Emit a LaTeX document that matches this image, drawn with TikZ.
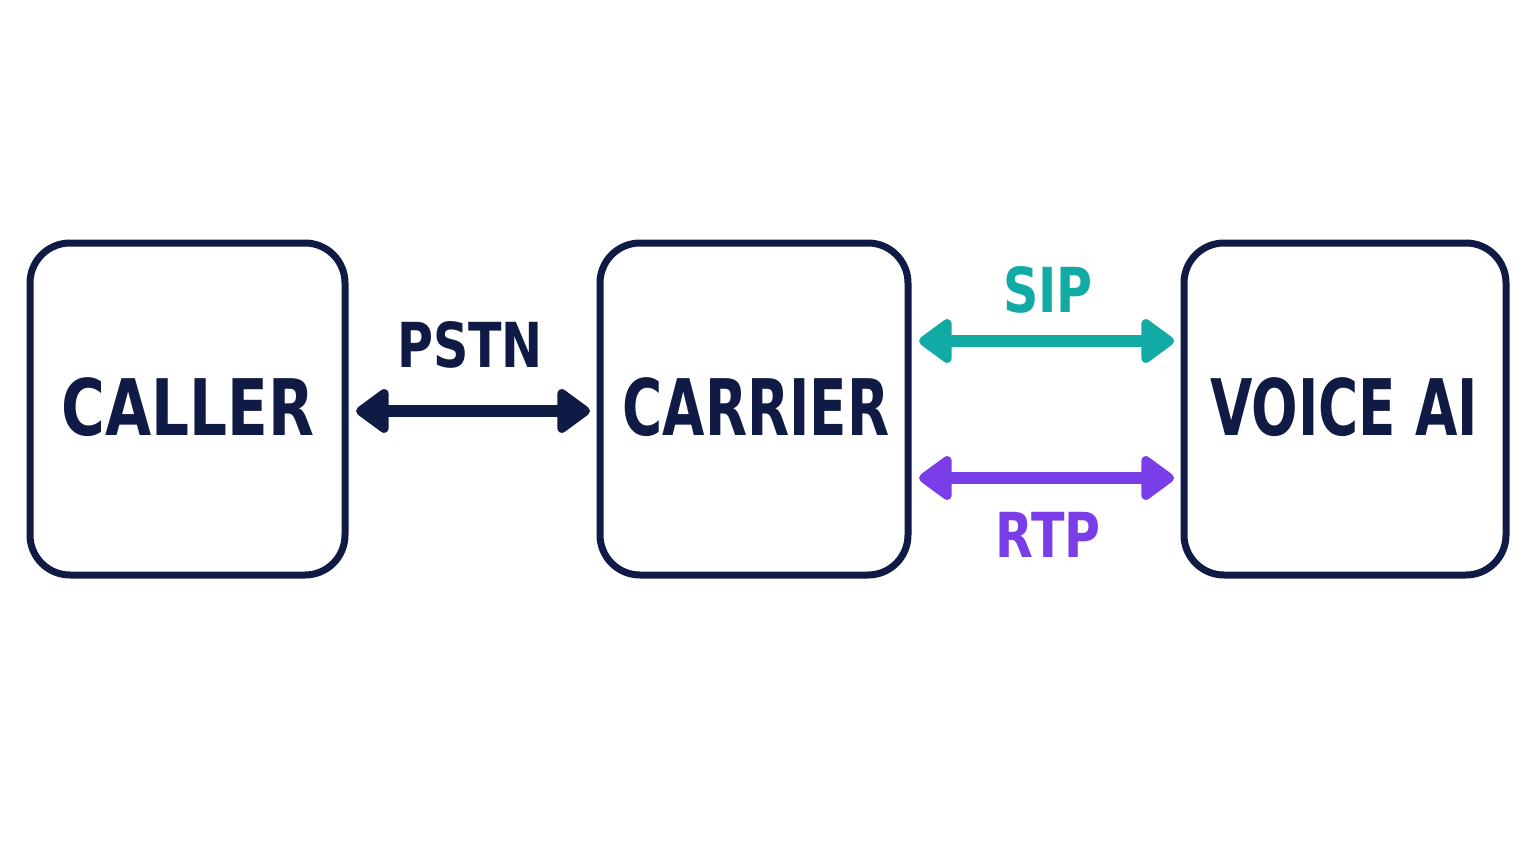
\documentclass[tikz,border=0pt]{standalone}
\usepackage{fontspec}
\setmainfont{DejaVu Sans Condensed}
\usetikzlibrary{arrows.meta}
\definecolor{navy}{HTML}{0F1A45}
\definecolor{teal}{HTML}{12AAA5}
\definecolor{purp}{HTML}{7A3EE8}
\newcommand{\nar}[2]{\scalebox{#1}[1]{#2}}
\begin{document}
\begin{tikzpicture}[x=1pt,y=-1pt,
 box/.style={draw=navy,line width=7pt,rounded corners=40pt,fill=white},
 lbl/.style={font=\bfseries\fontsize{78}{80}\selectfont,text=navy},
 arr/.style={line width=12pt,{Triangle[length=36pt,width=50pt,round]}-{Triangle[length=36pt,width=50pt,round]}},
 alab/.style={font=\bfseries\fontsize{62}{64}\selectfont}]
\useasboundingbox (0,0) rectangle (1536,864);
\fill[white] (0,0) rectangle (1536,864);
\draw[box] (30,243) rectangle (345,575);
\draw[box] (600,243) rectangle (908,575);
\draw[box] (1184,243) rectangle (1506,575);
\node[lbl] (caller) at (188,407) {\nar{0.85}{CALLER}};
\node[lbl] (carrier) at (756,407) {\nar{0.78}{CARRIER}};
\node[lbl] (voice) at (1344,407) {\nar{0.78}{VOICE AI}};
\coordinate (a1) at (356,411); \coordinate (a2) at (590,411);
\coordinate (s1) at (919,341); \coordinate (s2) at (1174,341);
\coordinate (r1) at (919,478); \coordinate (r2) at (1174,478);
\draw[arr,navy] (a1) -- (a2);
\draw[arr,teal] (s1) -- (s2);
\draw[arr,purp] (r1) -- (r2);
\node[alab,text=navy] (pstn) at (470,345) {\nar{0.88}{PSTN}};
\node[alab,text=teal] (sip) at (1048,290) {\nar{0.88}{SIP}};
\node[alab,text=purp] (rtp) at (1048,535) {\nar{0.88}{RTP}};
\end{tikzpicture}
\end{document}
